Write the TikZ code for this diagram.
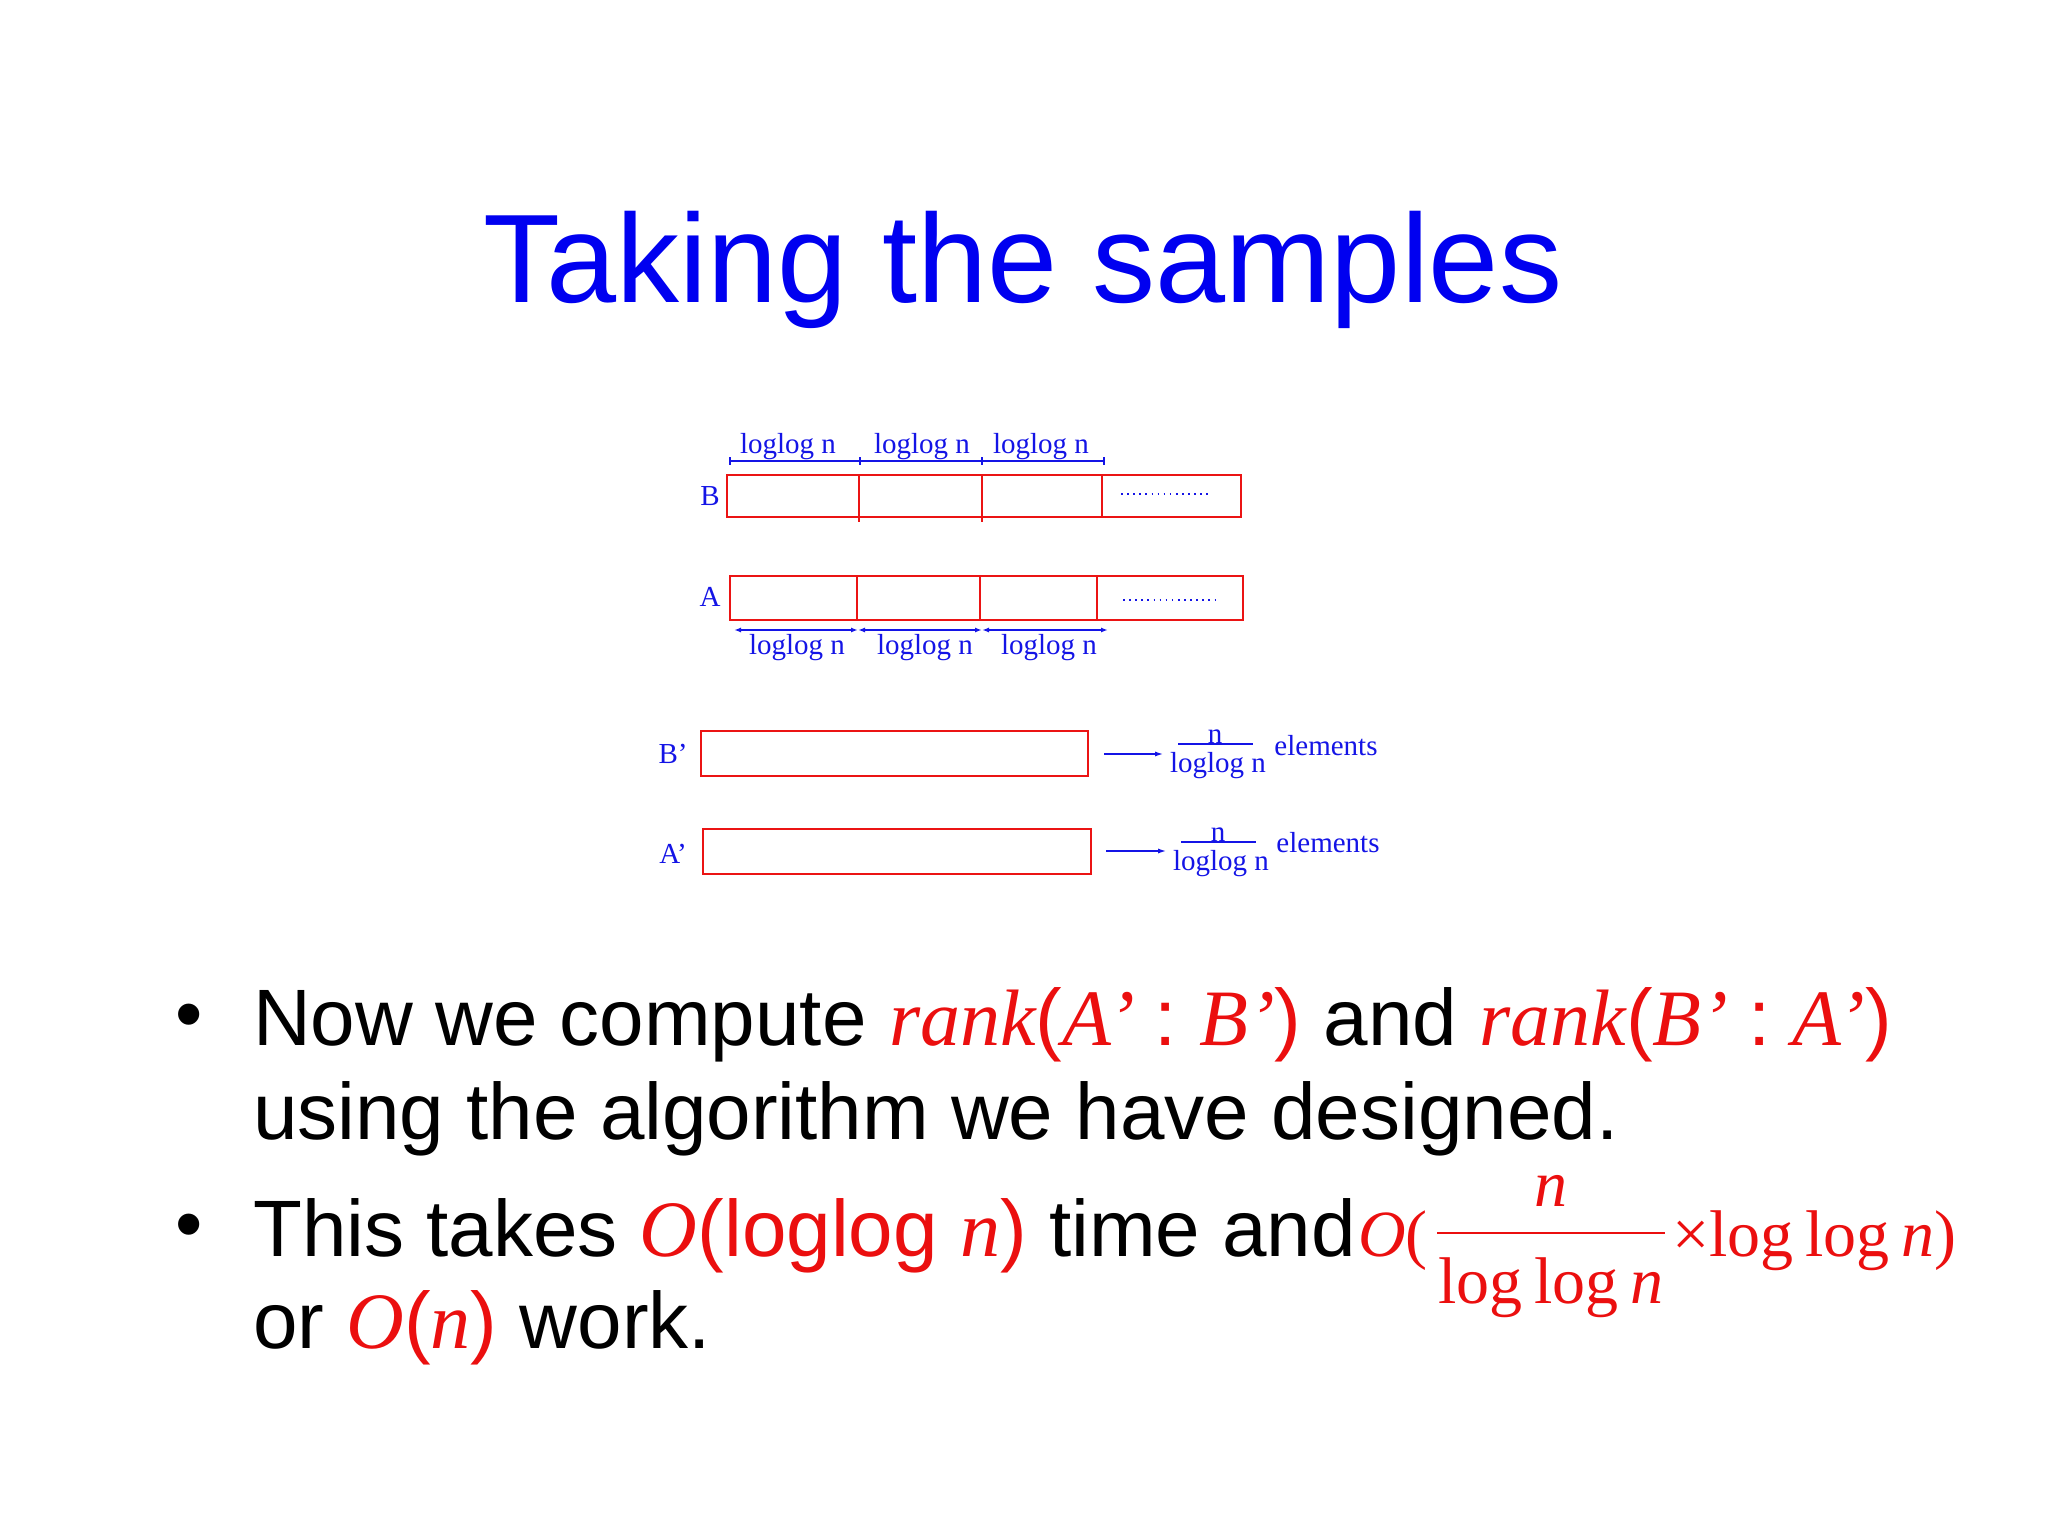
\documentclass[tikz,border=0pt]{standalone}
\usepackage{fontspec}
\setmainfont{Liberation Sans}
\newfontfamily\tms{Liberation Serif}
\usetikzlibrary{arrows.meta}
\definecolor{tblue}{RGB}{0,0,240}
\definecolor{dblue}{RGB}{20,20,230}
\definecolor{dred}{RGB}{235,20,20}
\definecolor{mred}{RGB}{235,15,15}
\newcommand{\rt}[1]{\textcolor{mred}{#1}}
\newcommand{\ri}[1]{\textcolor{mred}{{\tms\itshape #1}}}
\begin{document}
\begin{tikzpicture}[x=1pt,y=-1pt,
  cell/.style={draw=dred,line width=2.4pt},
  lab/.style={text=dblue,font=\tms\fontsize{29}{31}\selectfont,inner sep=0pt},
  bul/.style={anchor=base west,inner sep=0pt,font=\fontsize{80}{84}\selectfont},
  big/.style={inner sep=0pt,text=mred,font=\tms\fontsize{66}{70}\selectfont},
  conn/.style={draw=dblue,line width=2pt},
  dots/.style={draw=dblue,line width=1.6pt,dash pattern=on 1.6pt off 4.5pt}]
\useasboundingbox (0,0) rectangle (2048,1536);
\fill[white] (0,0) rectangle (2048,1536);
\node[text=tblue,font=\fontsize{126}{130}\selectfont,inner sep=0pt] (title) at (1023,270) {Taking the samples};
% B row
\draw[cell] (727,475) rectangle (1241,517);
\draw[cell] (859,475) -- (859,522) (982,475) -- (982,522) (1102,475) -- (1102,517);
\draw[dots] (1121,494) -- (1212,494);
\node[lab] (lB) at (710,496) {B};
\node[lab] (t1) at (788,447) {loglog n};
\node[lab] (t2) at (922,447) {loglog n};
\node[lab] (t3) at (1041,447) {loglog n};
\draw[conn] (730,461) -- (1104,461);
\draw[conn] (730,457)--(730,465) (860,457)--(860,465) (982,457)--(982,465) (1104,457)--(1104,465);
% A row
\draw[cell] (730,576) rectangle (1243,620);
\draw[cell] (857,576) -- (857,620) (980,576) -- (980,620) (1097,576) -- (1097,620);
\draw[dots] (1123,600) -- (1215,600);
\node[lab] (lA) at (710,597) {A};
\coordinate (a0) at (734,630); \coordinate (a1) at (858,630);
\coordinate (a2) at (982,630); \coordinate (a3) at (1108,630);
\draw[conn,{Latex[length=7pt,width=5pt]}-{Latex[length=7pt,width=5pt]}] (a0) -- (a1);
\draw[conn,{Latex[length=7pt,width=5pt]}-{Latex[length=7pt,width=5pt]}] (a1) -- (a2);
\draw[conn,{Latex[length=7pt,width=5pt]}-{Latex[length=7pt,width=5pt]}] (a2) -- (a3);
\node[lab] (b1) at (797,648) {loglog n};
\node[lab] (b2) at (925,648) {loglog n};
\node[lab] (b3) at (1049,648) {loglog n};
% B' and A'
\draw[cell] (701,731) rectangle (1088,776);
\node[lab] (lBp) at (673,754) {B’};
\draw[cell] (703,829) rectangle (1091,874);
\node[lab] (lAp) at (673,854) {A’};
\node[lab,anchor=base] (n1) at (1215,743) {n};
\draw[conn] (1178,744) -- (1253,744);
\node[lab,anchor=base] (d1f) at (1218,772) {loglog n};
\node[lab] (e1) at (1326,746) {elements};
\draw[conn,-{Latex[length=9pt,width=5pt]}] (1104,754) -- (1164,754);
\node[lab,anchor=base] (n2) at (1218,841) {n};
\draw[conn] (1181,842) -- (1256,842);
\node[lab,anchor=base] (d2f) at (1221,870) {loglog n};
\node[lab] (e2) at (1328,843) {elements};
\draw[conn,-{Latex[length=9pt,width=5pt]}] (1106,851) -- (1167,851);
% bullets
\node[font=\fontsize{78}{80}\selectfont,inner sep=0pt] (dd1) at (189,1022) {•};
\node[font=\fontsize{78}{80}\selectfont,inner sep=0pt] (dd2) at (189,1232) {•};
\node[bul] (l1) at (253,1045) {Now we compute \ri{rank}\rt{(}\ri{A’ }\rt{: }\ri{B’}\rt{)} and \ri{rank}\rt{(}\ri{B’ }\rt{: }\ri{A’}\rt{)}};
\node[bul] (l2) at (253,1139) {using the algorithm we have designed.};
\node[bul] (l3) at (253,1256) {This takes \ri{O}\rt{(loglog }\ri{n}\rt{)} time and};
\node[bul] (l4) at (253,1348) {or \ri{O}\rt{(}\ri{n}\rt{)} work.};
\node[big,anchor=base west] (o1) at (1358,1256) {\itshape O\upshape(};
\node[big,anchor=base] (num) at (1551,1206) {\itshape n};
\draw[draw=mred,line width=2pt] (1437,1233) -- (1665,1233);
\node[big,anchor=base] (den) at (1551,1303) {log\hspace{0.18em}log\hspace{0.18em}\itshape n};
\node[big,anchor=base west] (o2) at (1672,1256) {×log\hspace{0.18em}log\hspace{0.18em}\itshape n\upshape)};
\end{tikzpicture}
\end{document}
